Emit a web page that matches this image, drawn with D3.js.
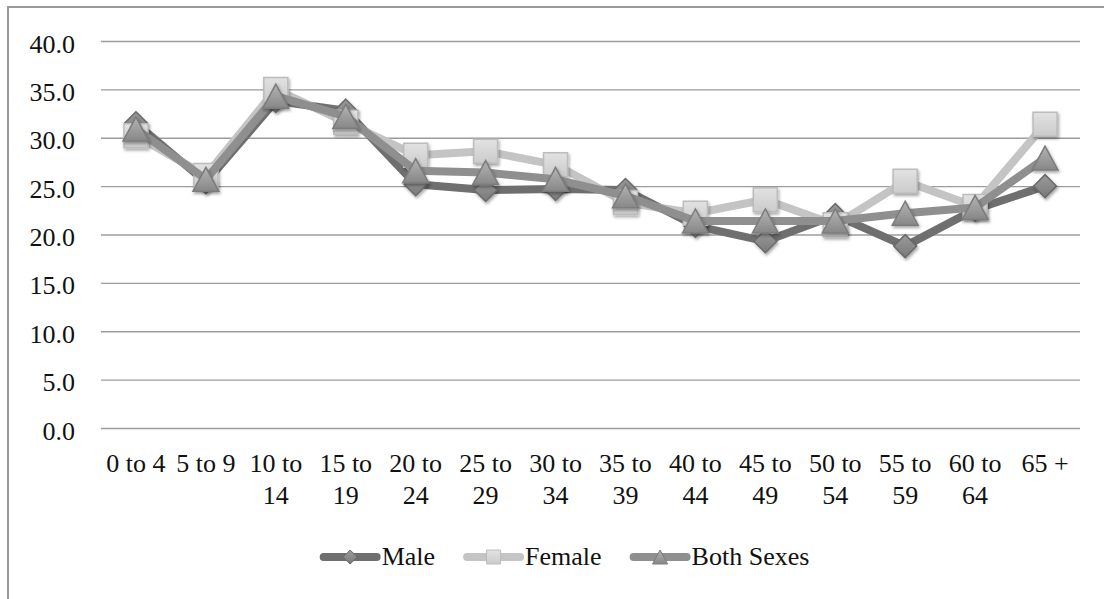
<!DOCTYPE html>
<html>
<head>
<meta charset="utf-8">
<script src="https://cdn.jsdelivr.net/npm/d3@7"></script>
<style>
  html, body { margin: 0; padding: 0; background: #fff; }
  svg { display: block; }
  text { font-family: "Liberation Serif", "DejaVu Serif", serif; fill: #111; }
</style>
</head>
<body>
<svg id="chart" width="1104" height="599"></svg>
<script>
// Age groups along the x axis
const categories = ["0 to 4", "5 to 9", "10 to 14", "15 to 19", "20 to 24", "25 to 29", "30 to 34",
  "35 to 39", "40 to 44", "45 to 49", "50 to 54", "55 to 59", "60 to 64", "65 +"];

// Rates per age group
const maleValues   = [31.5, 25.4, 33.8, 32.8, 25.2, 24.6, 24.7, 24.6, 20.9, 19.3, 22.0, 18.8, 22.6, 25.0];
const femaleValues = [30.2, 26.1, 35.0, 31.6, 28.2, 28.6, 27.2, 23.3, 22.2, 23.6, 21.0, 25.5, 22.9, 31.4];
const bothValues   = [30.9, 25.7, 34.3, 32.2, 26.6, 26.4, 25.7, 24.0, 21.4, 21.4, 21.4, 22.2, 22.8, 27.9];

// Value axis ticks
const yTicks = [0, 5, 10, 15, 20, 25, 30, 35, 40];

const seriesNames = ["Male", "Female", "Both Sexes"];

const svg = d3.select("#chart");
const W = 1104, H = 599;
const plot = { left: 101, right: 1080, top: 41, bottom: 428 };

// Outer chart frame (left and top edges visible)
svg.append("rect")
  .attr("x", 8).attr("y", 7)
  .attr("width", 1200).attr("height", 700)
  .attr("fill", "none")
  .attr("stroke", "#9a9a9a")
  .attr("stroke-width", 2);

const x = d3.scaleBand().domain(categories).range([plot.left, plot.right]);
const y = d3.scaleLinear().domain([0, 40]).range([plot.bottom, plot.top]);
const cx = c => x(c) + x.bandwidth() / 2;

// Definitions: gradients and a soft drop shadow for markers
const defs = svg.append("defs");
const flt = defs.append("filter").attr("id", "shadow")
  .attr("x", "-50%").attr("y", "-50%").attr("width", "200%").attr("height", "200%");
flt.append("feDropShadow")
  .attr("dx", 1.2).attr("dy", 2).attr("stdDeviation", 1.6)
  .attr("flood-color", "#000").attr("flood-opacity", 0.35);

function grad(id, top, bottom) {
  const g = defs.append("linearGradient").attr("id", id)
    .attr("x1", 0).attr("y1", 0).attr("x2", 0).attr("y2", 1);
  g.append("stop").attr("offset", "0%").attr("stop-color", top);
  g.append("stop").attr("offset", "100%").attr("stop-color", bottom);
}
grad("gMale", "#9a9a9a", "#7a7a7a");
grad("gFemale", "#e2e2e2", "#cbcbcb");
grad("gBoth", "#b4b4b4", "#878787");

// Marker shapes
function shapePath(kind, s) {
  const h = s / 2;
  if (kind === "diamond") return `M0,${-h}L${h},0L0,${h}L${-h},0Z`;
  if (kind === "square") return `M${-h},${-h}H${h}V${h}H${-h}Z`;
  // triangle
  const w = s * 0.54, t = s * 0.5;
  return `M0,${-t}L${w},${t}L${-w},${t}Z`;
}

const series = [
  { name: seriesNames[0], values: maleValues,   line: "#6f6f6f", fill: "url(#gMale)",   stroke: "#6a6a6a", kind: "diamond", size: 23 },
  { name: seriesNames[1], values: femaleValues, line: "#c4c4c4", fill: "url(#gFemale)", stroke: "#bcbcbc", kind: "square",  size: 24 },
  { name: seriesNames[2], values: bothValues,   line: "#8f8f8f", fill: "url(#gBoth)",   stroke: "#7c7c7c", kind: "triangle", size: 24 }
];

// Y axis with gridlines
const yAxis = svg.append("g")
  .attr("transform", `translate(${plot.left},0)`)
  .call(d3.axisLeft(y).tickValues(yTicks).tickFormat(d3.format(".1f"))
    .tickSize(-(plot.right - plot.left)).tickPadding(26));
yAxis.select(".domain").remove();
yAxis.selectAll(".tick line").attr("stroke", "#9c9c9c").attr("stroke-width", 1.4);
yAxis.selectAll(".tick text")
  .attr("dy", 11)
  .style("font-size", "26px")
  .style("font-family", "'Liberation Serif', serif")
  .attr("fill", "#111");

// X axis labels, wrapped within each band
const xAxis = svg.append("g")
  .attr("transform", `translate(0,${plot.bottom})`)
  .call(d3.axisBottom(x).tickSize(0));
xAxis.select(".domain").remove();
xAxis.selectAll(".tick text")
  .style("font-size", "26px")
  .style("font-family", "'Liberation Serif', serif")
  .attr("fill", "#111")
  .attr("y", 44).attr("dy", 0)
  .each(function (d) {
    const t = d3.select(this);
    const words = d.split(" ");
    t.text(null);
    const lines = [];
    let cur = [];
    const probe = t.append("tspan").attr("x", 0);
    words.forEach(w => {
      const trial = cur.concat([w]).join(" ");
      probe.text(trial);
      if (probe.node().getComputedTextLength() > x.bandwidth() && cur.length) {
        lines.push(cur.join(" "));
        cur = [w];
      } else {
        cur.push(w);
      }
    });
    lines.push(cur.join(" "));
    probe.remove();
    lines.forEach((ln, i) => {
      t.append("tspan").attr("x", 0).attr("dy", i === 0 ? 0 : 32).text(ln);
    });
  });

// Series lines then markers, drawn in series order
const lineGen = d3.line()
  .x((v, i) => cx(categories[i]))
  .y(v => y(v));

series.forEach(s => {
  const g = svg.append("g").attr("class", "series");
  g.append("path")
    .datum(s.values)
    .attr("d", lineGen)
    .attr("fill", "none")
    .attr("stroke", s.line)
    .attr("stroke-width", 8)
    .attr("stroke-linejoin", "round")
    .attr("stroke-linecap", "round");
  g.selectAll("path.marker")
    .data(s.values)
    .join("path")
    .attr("class", "marker")
    .attr("transform", (v, i) => `translate(${cx(categories[i])},${y(v)})`)
    .attr("d", shapePath(s.kind, s.size))
    .attr("fill", s.fill)
    .attr("stroke", s.stroke)
    .attr("stroke-width", 1.5)
    .attr("filter", "url(#shadow)");
});

// Legend
const legend = svg.append("g").attr("class", "legend");
const legendY = 557, lineLen = 61, gap = 28;
let lx = 0;
const items = [];
series.forEach(s => {
  const g = legend.append("g");
  g.append("line")
    .attr("x1", 4).attr("x2", lineLen - 4)
    .attr("y1", 0).attr("y2", 0)
    .attr("stroke", s.line).attr("stroke-width", 8).attr("stroke-linecap", "round");
  g.append("path")
    .attr("transform", `translate(${lineLen / 2},0)`)
    .attr("d", shapePath(s.kind, 14))
    .attr("fill", s.fill).attr("stroke", s.stroke).attr("stroke-width", 1);
  const txt = g.append("text")
    .attr("x", lineLen + 1).attr("y", 8)
    .style("font-size", "26px")
    .text(s.name);
  const w = lineLen + 1 + txt.node().getComputedTextLength();
  items.push({ g, w });
});
const total = d3.sum(items, d => d.w) + gap * (items.length - 1);
lx = 564.5 - total / 2;
items.forEach(it => {
  it.g.attr("transform", `translate(${lx},${legendY})`);
  lx += it.w + gap;
});
</script>
</body>
</html>
